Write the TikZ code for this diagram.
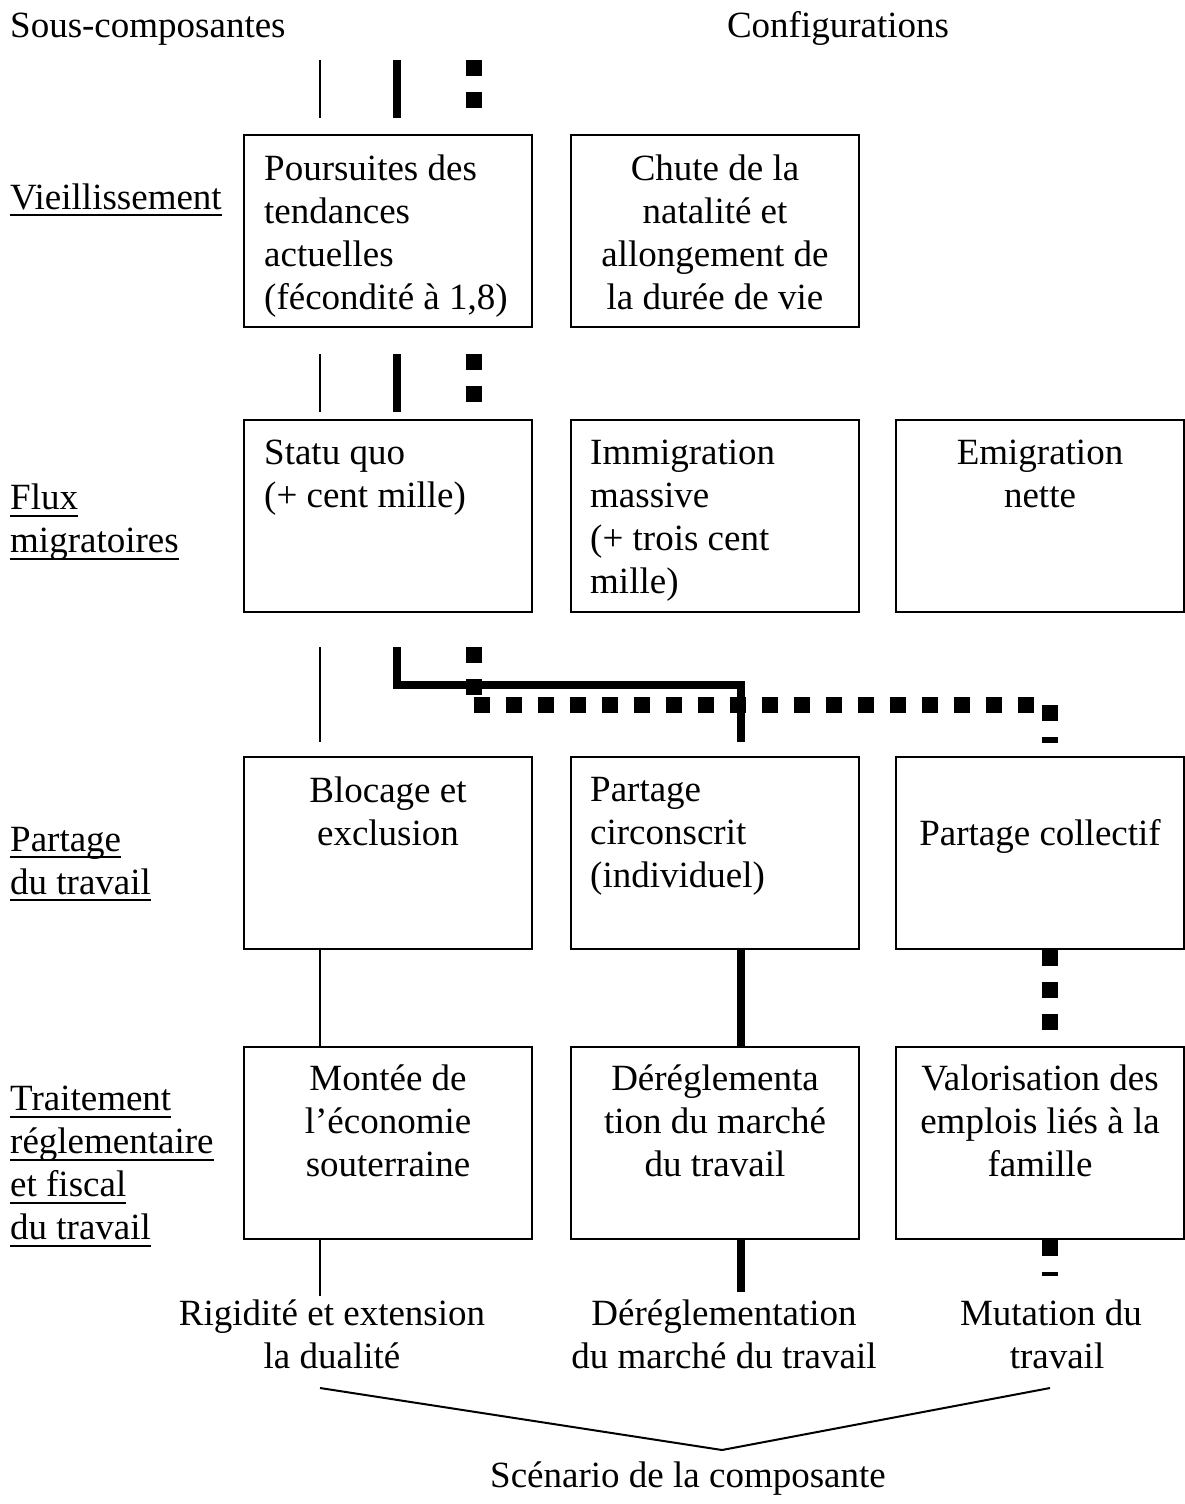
\documentclass[tikz,border=0pt]{standalone}
\usepackage{fontspec}
\setmainfont{Liberation Serif}
\usetikzlibrary{calc}
\newsavebox{\ulbox}
\newcommand{\undl}[1]{\sbox{\ulbox}{#1}\rlap{\rule[-7pt]{\wd\ulbox}{2pt}}\usebox{\ulbox}}
\begin{document}
\begin{tikzpicture}[x=1pt, y=-1pt,
    every node/.style={font=\fontsize{37}{43}\selectfont},
    box/.style={draw, line width=2pt, minimum width=288pt, minimum height=192pt,
      inner sep=0pt, anchor=north west},
    txt/.style={inner sep=0pt, execute at begin node=\strut},
    solidline/.style={line width=2pt},
    boldline/.style={line width=8pt},
    dotline/.style={line width=16pt, dash pattern=on 16pt off 16pt}]
  \useasboundingbox (0,0) rectangle (1184,1504);
  % headers and row labels
  \node[txt, anchor=north west] (hsous) at (10,7) {Sous-composantes};
  \node[txt, anchor=north] (hconf) at (838,7) {Configurations};
  \node[txt, anchor=north west] (lvieil) at (10,179) {\undl{Vieillissement}};
  \node[txt, anchor=north west, align=left] (lflux) at (10,484)
    {\undl{Flux}\\\undl{migratoires}};
  \node[txt, anchor=north west, align=left] (lpart) at (10,827)
    {\undl{Partage}\\\undl{du travail}};
  \node[txt, anchor=north west, align=left] (ltrait) at (10,1086)
    {\undl{Traitement}\\\undl{réglementaire}\\\undl{et fiscal}\\\undl{du travail}};
  % boxes
  \node[box] (vtend) at (243,134) {};
  \node[box] (vchute) at (570,134) {};
  \node[box] (fstatu) at (243,419) {};
  \node[box] (fimmig) at (570,419) {};
  \node[box] (femig) at (895,419) {};
  \node[box] (pbloc) at (243,756) {};
  \node[box] (pcirc) at (570,756) {};
  \node[box] (pcoll) at (895,756) {};
  \node[box] (tsout) at (243,1046) {};
  \node[box] (tdereg) at (570,1046) {};
  \node[box] (tvalo) at (895,1046) {};
  % box texts
  \node[txt, anchor=north west, align=left] (vtendt) at ($(vtend.north west)+(21,21)$)
    {Poursuites des\\tendances\\actuelles\\(fécondité à 1,8)};
  \node[txt, anchor=north, align=center] (vchutet) at ($(vchute.north)+(0,21)$)
    {Chute de la\\natalité et\\allongement de\\la durée de vie};
  \node[txt, anchor=north west, align=left] (fstatut) at ($(fstatu.north west)+(21,21)$)
    {Statu quo\\(+ cent mille)};
  \node[txt, anchor=north west, align=left] (fimmigt) at ($(fimmig.north west)+(20,21)$)
    {Immigration\\massive\\(+ trois cent\\mille)};
  \node[txt, anchor=north, align=center] (femigt) at ($(femig.north)+(0,21)$)
    {Emigration\\nette};
  \node[txt, anchor=north, align=center] (pbloct) at ($(pbloc.north)+(0,21)$)
    {Blocage et\\exclusion};
  \node[txt, anchor=north west, align=left] (pcirct) at ($(pcirc.north west)+(20,21)$)
    {Partage\\circonscrit\\(individuel)};
  \node[txt, anchor=north] (pcollt) at ($(pcoll.north)+(0,59)$) {Partage collectif};
  \node[txt, anchor=north, align=center] (tsoutt) at ($(tsout.north)+(0,19)$)
    {Montée de\\l’économie\\souterraine};
  \node[txt, anchor=north, align=center] (tderegt) at ($(tdereg.north)+(0,19)$)
    {Déréglementa\\tion du marché\\du travail};
  \node[txt, anchor=north, align=center] (tvalot) at ($(tvalo.north)+(0,19)$)
    {Valorisation des\\emplois liés à la\\famille};
  % scenario texts
  \node[txt, anchor=north, align=center] (srigid) at (332,1300)
    {Rigidité et extension\\la dualité};
  \node[txt, anchor=north, align=center] (sdereg) at (724,1300)
    {Déréglementation\\du marché du travail};
  \node[txt, anchor=north, align=center] (smut) at (1051,1300)
    {Mutation du\\\hspace*{12pt}travail};
  \node[txt, anchor=north] (scen) at (688,1457) {Scénario de la composante};
  % tracks and stub ends
  \coordinate (trA) at (320,0);
  \coordinate (trB) at (397,0);
  \coordinate (trC) at (474,0);
  \coordinate (trD) at (741,0);
  \coordinate (trE) at (1050,0);
  \coordinate (s0top) at (0,60);
  \coordinate (s0bot) at (0,118);
  \coordinate (s0dot) at (0,108);
  \coordinate (s1top) at (0,354);
  \coordinate (s1bot) at (0,412);
  \coordinate (s1dot) at (0,403);
  \coordinate (s2top) at (0,647);
  \coordinate (s2bot) at (0,742);
  \coordinate (s2mid) at (0,685);
  \coordinate (s2dot) at (0,695);
  \coordinate (s2row) at (0,705);
  \coordinate (s2end) at (0,743);
  \coordinate (s3top) at (0,950);
  \coordinate (s3bot) at (0,1030);
  \coordinate (s4thin) at (0,1296);
  \coordinate (s4bold) at (0,1292);
  \coordinate (s4dot) at (0,1276);
  \coordinate (brl) at (320,1388);
  \coordinate (brm) at (722,1450);
  \coordinate (brr) at (1050,1388);
  % connectors
  \draw[solidline] (s0top -| trA) -- (s0bot -| trA);
  \draw[boldline] (s0top -| trB) -- (s0bot -| trB);
  \draw[dotline] (s0top -| trC) -- (s0dot -| trC);
  \draw[solidline] (s1top -| trA) -- (s1bot -| trA);
  \draw[boldline] (s1top -| trB) -- (s1bot -| trB);
  \draw[dotline] (s1top -| trC) -- (s1dot -| trC);
  \draw[solidline] (s2top -| trA) -- (s2bot -| trA);
  \draw[boldline] (s2top -| trB) -- (s2mid -| trB) -- (s2mid -| trD) -- (s2bot -| trD);
  \draw[dotline] (s2top -| trC) -- (s2dot -| trC);
  \draw[dotline] (s2row -| trC) -- (s2row -| trE) -- (s2end -| trE);
  \draw[solidline] (pbloc.south -| trA) -- (tsout.north -| trA);
  \draw[boldline] (pcirc.south -| trD) -- (tdereg.north -| trD);
  \draw[dotline] (s3top -| trE) -- (s3bot -| trE);
  \draw[solidline] (tsout.south -| trA) -- (s4thin -| trA);
  \draw[boldline] (tdereg.south -| trD) -- (s4bold -| trD);
  \draw[dotline] (tvalo.south -| trE) -- (s4dot -| trE);
  \draw[solidline] (brl) -- (brm) -- (brr);
\end{tikzpicture}
\end{document}
